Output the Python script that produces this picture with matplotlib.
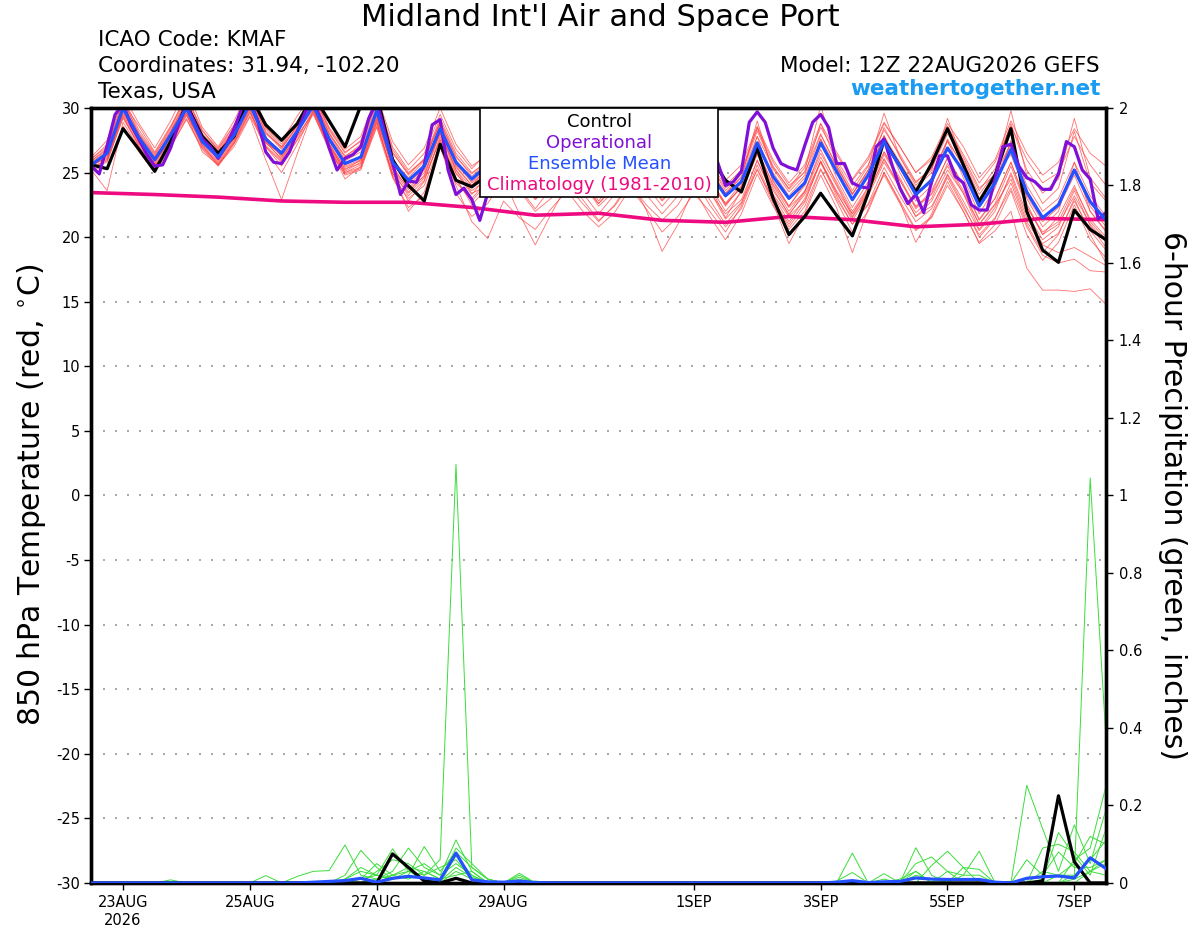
import matplotlib
matplotlib.use('Agg')
import matplotlib.pyplot as plt
import pandas as pd
from matplotlib.patches import Rectangle

plt.rcParams['font.family'] = ['DejaVu Sans']

# ---------------- data ----------------
start = '2026-08-22 12:00'
times6 = pd.date_range(start, periods=65, freq='6h')
times3 = pd.date_range(start, periods=129, freq='3h')
clim_times = pd.date_range(start, periods=17, freq='24h')

tick_dates = pd.to_datetime(['2026-08-23', '2026-08-25', '2026-08-27', '2026-08-29',
                             '2026-09-01', '2026-09-03', '2026-09-05', '2026-09-07'])
tick_labels = ['23AUG\n2026', '25AUG', '27AUG', '29AUG', '1SEP', '3SEP', '5SEP', '7SEP']
temp_ticks = [-30, -25, -20, -15, -10, -5, 0, 5, 10, 15, 20, 25, 30]
precip_ticks = [0, 0.2, 0.4, 0.6, 0.8, 1, 1.2, 1.4, 1.6, 1.8, 2]
precip_labels = ['0', '0.2', '0.4', '0.6', '0.8', '1', '1.2', '1.4', '1.6', '1.8', '2']

control_t = [25.6, 25.3, 28.4, 26.8, 25.1, 27.4, 30.3, 27.8, 26.5, 27.8, 31.0, 28.7, 27.5, 28.8, 31.0, 29.0,
             27.0, 30.2, 31.0, 26.0, 24.0, 22.8, 27.2, 24.4, 23.9, 24.8, 27.5, 25.5, 24.5, 25.5, 27.5, 25.8,
             24.5, 25.8, 27.5, 26.0, 24.8, 25.8, 27.3, 26.3, 24.4, 23.5, 26.9, 23.0, 20.2, 21.6, 23.4, 21.7,
             20.1, 23.4, 27.5, 25.5, 23.5, 25.7, 28.4, 25.6, 22.75, 24.8, 28.4, 22.0, 19.0, 18.05, 22.1, 20.6,
             19.8]

ens_mean_t = [25.6, 26.5, 30.0, 27.7, 26.0, 27.9, 30.0, 27.4, 26.2, 27.9, 30.3, 27.6, 26.5, 28.2, 30.2, 27.6,
              25.7, 26.2, 29.8, 25.8, 24.4, 25.5, 28.4, 25.8, 24.5, 25.6, 27.0, 25.5, 24.3, 25.3, 27.0, 25.5,
              24.2, 25.5, 27.2, 25.8, 24.3, 25.5, 27.0, 25.0, 23.2, 24.3, 27.3, 24.7, 23.0, 24.2, 27.3, 25.1,
              22.9, 24.8, 27.4, 25.5, 23.3, 24.4, 26.9, 25.1, 22.4, 24.2, 26.8, 23.5, 21.5, 22.5, 25.2, 22.75,
              21.3]

oper_t = [25.5, 24.9, 27.1, 29.5, 30.3, 28.7, 27.6, 26.4, 25.5, 25.6, 26.9, 28.7, 30.2, 28.9, 27.6, 27.0,
          26.1, 27.1, 28.4, 30.0, 30.6, 29.0, 26.6, 25.8, 25.7, 26.6, 28.2, 29.7, 30.6, 29.0, 26.9, 25.2,
          26.1, 26.4, 27.0, 29.2, 30.5, 28.2, 25.8, 23.3, 24.35, 24.25, 25.6, 28.7, 29.1, 25.2, 23.3, 23.8,
          22.9, 21.3, 23.4, 25.0, 26.5, 26.0, 25.2, 24.6, 24.2, 24.8, 25.8, 26.8, 27.0, 26.0, 25.0, 24.5,
          24.2, 24.9, 26.0, 27.2, 27.4, 26.4, 25.3, 24.7, 24.4, 25.0, 26.3, 27.4, 27.5, 26.5, 26.3, 25.8,
          24.0, 24.3, 25.1, 28.9, 29.7, 28.9, 26.9, 25.7, 25.4, 25.2, 27.1, 28.9, 29.5, 28.5, 25.7, 25.7,
          24.2, 23.9, 23.8, 27.0, 27.6, 25.6, 23.8, 22.6, 23.3, 21.9, 24.3, 26.3, 26.3, 24.7, 24.2, 22.5,
          22.1, 22.1, 24.5, 27.0, 27.2, 25.5, 24.6, 24.3, 23.7, 23.7, 24.9, 27.4, 27.0, 25.2, 24.5, 21.4,
          21.9]

clim_t = [23.45, 23.3, 23.1, 22.8, 22.7, 22.7, 22.3, 21.7, 21.85, 21.3, 21.15, 21.6, 21.35, 20.8, 21.0,
          21.45, 21.35]

member_01 = [26.0, 27.2, 30.8, 28.3, 26.5, 28.5, 31.0, 28.0, 26.8, 28.6, 31.2, 28.4, 27.0, 29.0, 31.0, 28.3,
             26.5, 27.5, 30.8, 27.0, 25.2, 26.5, 29.5, 26.8, 25.3, 26.6, 28.3, 26.5, 25.0, 26.4, 28.5, 26.6,
             25.0, 26.4, 28.4, 26.8, 25.3, 26.6, 28.5, 26.3, 24.4, 25.6, 28.6, 26.0, 24.2, 25.6, 28.8, 26.6,
             24.5, 26.2, 28.9, 27.0, 25.0, 26.2, 28.8, 27.0, 24.6, 26.0, 29.0, 26.5, 24.8, 25.8, 28.4, 26.5,
             25.5]
member_02 = [25.2, 23.6, 28.9, 26.9, 25.3, 27.0, 29.1, 26.8, 25.5, 27.2, 29.4, 27.0, 25.8, 27.5, 29.5, 26.9,
             25.0, 25.6, 28.8, 24.9, 23.4, 24.6, 27.5, 24.9, 23.6, 24.5, 25.9, 24.2, 22.9, 24.0, 25.7, 24.0,
             22.6, 23.9, 25.9, 24.3, 22.8, 24.0, 25.6, 23.5, 21.8, 22.9, 25.9, 23.3, 21.6, 22.8, 25.8, 23.5,
             21.3, 23.2, 25.8, 23.8, 21.6, 22.8, 25.2, 23.4, 20.6, 22.3, 24.8, 21.5, 19.5, 20.3, 22.8, 20.5,
             19.0]
member_03 = [25.8, 26.0, 29.6, 27.5, 25.8, 27.6, 29.8, 27.7, 26.5, 28.0, 30.6, 28.0, 27.0, 28.6, 30.5, 28.0,
             26.0, 26.8, 30.2, 26.2, 24.0, 25.2, 28.8, 25.5, 24.0, 25.5, 27.3, 25.0, 23.8, 25.0, 27.4, 25.2,
             23.6, 25.0, 27.6, 25.2, 23.6, 25.0, 26.6, 24.5, 22.4, 24.0, 27.8, 24.3, 22.4, 24.0, 27.6, 24.6,
             22.3, 24.3, 27.9, 25.0, 22.8, 24.0, 27.5, 24.6, 21.8, 23.8, 27.5, 23.0, 20.8, 22.0, 25.8, 22.0,
             20.5]
member_04 = [25.5, 26.3, 29.9, 27.3, 25.4, 27.3, 29.5, 26.6, 25.6, 27.0, 29.3, 26.0, 22.9, 26.5, 29.8, 27.0,
             24.5, 25.5, 28.6, 25.0, 22.8, 24.3, 27.8, 24.6, 22.5, 23.9, 26.5, 24.6, 23.0, 24.6, 26.6, 24.8,
             23.2, 24.8, 27.0, 25.1, 23.5, 24.8, 26.2, 24.0, 21.5, 23.6, 26.5, 23.8, 21.7, 23.5, 26.8, 24.1,
             21.8, 23.8, 26.6, 24.6, 22.3, 23.6, 26.1, 24.0, 21.3, 23.0, 25.8, 22.6, 20.2, 21.6, 24.0, 21.2,
             19.8]
member_05 = [25.9, 26.8, 30.3, 27.9, 26.2, 28.0, 30.3, 27.9, 26.4, 28.3, 30.8, 27.8, 26.2, 28.0, 30.4, 27.3,
             25.2, 26.0, 29.6, 25.3, 23.5, 24.8, 28.0, 25.0, 23.3, 24.8, 26.5, 24.6, 23.0, 24.3, 26.3, 24.5,
             22.8, 24.4, 26.5, 24.6, 22.9, 24.3, 26.2, 24.0, 22.0, 23.5, 26.4, 23.6, 21.8, 23.3, 25.8, 23.2,
             21.0, 22.5, 24.8, 22.6, 20.5, 21.5, 24.0, 22.0, 19.5, 20.5, 22.0, 17.6, 15.9, 15.9, 15.8, 16.0,
             14.8]
member_06 = [25.4, 25.8, 29.3, 27.2, 25.9, 27.8, 30.0, 27.4, 26.0, 27.6, 30.0, 27.3, 26.4, 28.3, 30.1, 27.2,
             25.4, 25.9, 29.2, 25.6, 24.3, 25.4, 28.0, 25.4, 24.0, 25.2, 26.8, 25.1, 23.8, 24.8, 26.7, 25.0,
             23.7, 25.0, 26.8, 25.4, 23.9, 25.1, 26.6, 24.4, 22.6, 23.8, 26.8, 24.1, 22.3, 23.5, 26.2, 24.0,
             21.6, 23.5, 26.0, 23.9, 21.6, 22.4, 24.6, 22.3, 20.2, 21.5, 23.8, 20.8, 18.6, 18.0, 18.3, 17.4,
             17.3]
member_07 = [26.2, 27.5, 31.0, 28.8, 26.9, 29.0, 31.5, 28.5, 27.0, 29.0, 31.5, 28.8, 27.4, 29.4, 31.2, 28.5,
             26.8, 27.8, 31.0, 27.4, 25.6, 26.9, 30.0, 27.2, 25.5, 26.4, 27.8, 26.0, 24.7, 25.8, 27.6, 25.9,
             24.5, 25.6, 27.4, 26.0, 24.6, 25.8, 27.4, 25.6, 23.8, 25.0, 28.5, 25.3, 23.5, 24.8, 28.8, 25.8,
             23.6, 25.5, 29.6, 26.2, 24.0, 25.2, 29.2, 25.8, 23.3, 25.0, 29.8, 24.8, 22.6, 23.8, 28.2, 24.2,
             22.8]
member_08 = [25.6, 26.1, 29.7, 27.6, 25.9, 27.4, 29.9, 27.2, 25.9, 27.7, 30.1, 27.5, 26.3, 28.1, 30.0, 27.1,
             25.1, 25.8, 29.0, 24.8, 22.0, 23.5, 27.0, 24.0, 21.2, 19.9, 22.8, 21.5, 20.6, 22.2, 23.6, 22.0,
             20.8, 21.9, 23.8, 22.2, 20.4, 21.6, 23.4, 22.0, 20.4, 22.4, 25.6, 22.8, 20.8, 22.4, 25.3, 22.8,
             20.4, 22.0, 25.0, 22.7, 19.6, 21.8, 24.8, 22.5, 20.0, 21.4, 24.2, 21.0, 18.8, 20.2, 23.0, 20.2,
             18.0]
member_09 = [25.7, 26.6, 30.2, 27.9, 26.1, 28.1, 30.4, 27.6, 26.3, 28.1, 30.5, 27.4, 26.0, 28.0, 30.6, 27.8,
             25.9, 26.6, 30.0, 26.0, 24.6, 25.9, 28.9, 26.2, 24.9, 26.0, 27.2, 25.3, 24.0, 25.6, 27.5, 25.5,
             24.4, 25.9, 27.8, 26.0, 24.5, 25.6, 27.5, 25.3, 23.4, 24.6, 29.0, 25.0, 23.2, 24.6, 27.9, 25.6,
             23.3, 25.2, 27.8, 25.8, 23.8, 25.0, 27.4, 25.6, 23.0, 24.8, 27.3, 24.0, 22.0, 23.0, 25.8, 23.2,
             21.6]
member_10 = [25.3, 25.4, 28.6, 26.6, 25.0, 26.9, 29.2, 26.9, 25.6, 27.3, 29.6, 27.3, 26.1, 27.9, 29.6, 26.7,
             24.9, 25.3, 28.5, 24.6, 22.3, 23.2, 27.0, 23.4, 21.6, 22.6, 24.5, 21.8, 19.4, 21.8, 24.0, 22.6,
             21.2, 22.5, 24.4, 22.1, 18.9, 21.0, 23.8, 21.6, 19.8, 21.8, 24.9, 22.4, 20.6, 22.0, 25.2, 23.0,
             21.0, 22.6, 25.4, 23.2, 21.2, 22.2, 24.9, 22.8, 20.5, 22.0, 25.0, 21.8, 19.8, 20.8, 23.6, 20.9,
             19.2]
member_11 = [25.9, 26.9, 30.5, 28.1, 26.4, 28.2, 30.6, 27.8, 26.5, 28.4, 30.9, 28.1, 26.8, 28.7, 30.9, 28.0,
             26.3, 27.0, 30.4, 26.5, 24.9, 26.0, 29.0, 26.3, 24.7, 25.9, 27.8, 25.9, 24.6, 25.9, 27.9, 26.1,
             24.6, 25.8, 27.9, 26.3, 24.8, 26.0, 27.8, 25.6, 23.6, 24.9, 28.2, 25.5, 23.7, 25.1, 30.2, 26.0,
             24.0, 25.6, 28.3, 26.4, 24.3, 25.3, 28.0, 26.0, 23.6, 25.3, 28.8, 25.2, 23.4, 24.5, 29.2, 24.6,
             23.0]
member_12 = [25.4, 26.0, 29.5, 27.3, 25.6, 27.5, 29.7, 27.1, 25.8, 27.5, 29.9, 27.0, 25.5, 27.6, 29.9, 27.0,
             25.3, 25.7, 29.1, 25.3, 23.8, 25.0, 28.1, 25.2, 23.8, 25.0, 26.5, 24.8, 23.4, 24.6, 26.2, 24.4,
             22.6, 24.1, 26.3, 24.8, 23.2, 24.6, 26.4, 24.3, 22.5, 23.9, 26.7, 24.0, 22.0, 23.6, 26.5, 24.3,
             22.0, 23.9, 26.6, 24.4, 22.4, 23.3, 25.5, 23.4, 21.0, 22.5, 24.5, 21.2, 19.4, 18.8, 19.2, 18.5,
             17.8]
member_13 = [25.8, 26.7, 30.1, 27.7, 26.0, 28.2, 30.5, 27.7, 26.6, 28.2, 30.2, 27.4, 26.4, 28.3, 30.5, 27.5,
             25.6, 26.3, 29.8, 25.9, 24.2, 25.3, 28.3, 25.6, 24.3, 25.4, 27.0, 25.4, 24.2, 25.4, 27.2, 25.7,
             24.4, 25.6, 27.4, 25.8, 24.4, 25.7, 27.4, 25.2, 23.4, 24.7, 27.8, 25.4, 23.8, 25.4, 28.5, 26.4,
             24.4, 26.0, 28.8, 27.0, 25.0, 26.0, 28.6, 26.4, 24.2, 25.8, 28.6, 26.0, 24.2, 25.0, 27.8, 25.6,
             24.0]
member_14 = [25.6, 26.4, 29.8, 27.4, 25.7, 27.7, 29.6, 27.0, 25.7, 27.4, 29.8, 26.7, 25.0, 27.2, 29.8, 27.2,
             25.0, 25.4, 29.3, 25.2, 23.2, 24.4, 27.6, 24.4, 22.8, 24.2, 26.0, 23.8, 22.2, 23.8, 25.4, 23.4,
             21.8, 23.3, 25.3, 23.3, 21.8, 23.2, 25.0, 22.9, 21.0, 22.6, 26.0, 23.2, 21.2, 23.0, 25.9, 23.4,
             21.5, 23.4, 26.1, 23.9, 21.9, 23.0, 25.7, 23.6, 21.0, 22.6, 25.5, 22.3, 20.4, 21.2, 23.8, 21.4,
             20.0]
member_15 = [26.1, 27.0, 30.6, 28.0, 26.3, 28.4, 30.8, 28.2, 26.9, 28.7, 31.0, 28.2, 26.9, 28.5, 30.7, 28.1,
             26.2, 27.2, 30.5, 26.6, 24.8, 26.1, 29.2, 26.5, 25.0, 25.8, 27.6, 25.7, 24.4, 25.7, 27.8, 25.8,
             24.2, 25.5, 27.7, 26.1, 24.7, 25.9, 27.6, 25.8, 24.0, 25.2, 28.4, 25.8, 24.0, 25.0, 28.0, 25.5,
             23.4, 25.0, 27.8, 25.4, 23.2, 24.6, 27.6, 25.4, 22.8, 24.5, 27.2, 23.6, 21.4, 22.6, 25.2, 22.4,
             20.8]
member_16 = [25.5, 26.2, 29.4, 27.0, 25.5, 27.1, 29.4, 27.4, 26.2, 27.8, 30.4, 27.7, 26.6, 28.4, 30.3, 27.6,
             25.5, 26.0, 29.4, 25.5, 23.7, 24.7, 28.3, 25.2, 23.4, 24.0, 25.3, 23.6, 22.0, 23.0, 24.5, 22.9,
             21.3, 22.4, 24.1, 22.5, 21.3, 22.5, 24.5, 22.5, 20.8, 22.2, 25.3, 22.6, 19.5, 21.8, 24.8, 22.3,
             18.8, 22.2, 25.0, 22.8, 20.6, 21.6, 24.3, 22.0, 19.6, 21.0, 23.6, 20.2, 18.2, 19.6, 22.5, 19.8,
             18.4]
member_17 = [25.7, 26.5, 30.4, 28.6, 26.6, 28.6, 30.9, 28.3, 26.7, 28.4, 30.7, 28.5, 27.2, 28.9, 31.0, 28.4,
             26.6, 27.4, 30.6, 26.8, 25.0, 26.0, 28.8, 26.0, 24.2, 25.2, 27.4, 25.3, 23.6, 25.2, 27.3, 25.6,
             24.0, 25.4, 27.0, 25.2, 23.6, 25.0, 27.1, 24.6, 22.6, 24.2, 27.2, 24.4, 22.4, 24.2, 27.6, 25.4,
             23.3, 25.2, 28.5, 26.2, 24.2, 25.4, 28.4, 26.2, 23.8, 24.8, 26.4, 23.2, 21.2, 22.3, 24.8, 22.0,
             20.4]
member_18 = [25.4, 25.9, 29.2, 27.1, 25.5, 27.2, 29.6, 27.1, 25.6, 27.3, 29.7, 27.1, 25.9, 27.8, 29.7, 26.9,
             24.8, 25.2, 28.9, 24.7, 23.0, 24.0, 27.2, 24.2, 23.0, 24.4, 26.0, 24.4, 23.2, 24.4, 26.2, 24.2,
             22.4, 23.6, 25.8, 24.0, 22.4, 23.8, 25.5, 23.6, 21.4, 22.7, 25.2, 22.9, 21.0, 22.7, 25.9, 23.6,
             21.8, 23.6, 26.4, 24.4, 22.2, 23.4, 26.2, 24.0, 21.4, 23.0, 25.8, 22.4, 20.2, 21.0, 23.2, 21.0,
             19.6]
members_t = [member_01, member_02, member_03, member_04, member_05, member_06, member_07, member_08, member_09,
             member_10, member_11, member_12, member_13, member_14, member_15, member_16, member_17, member_18]

control_p = [0, 0, 0, 0, 0, 0, 0, 0, 0, 0, 0, 0, 0, 0, 0, 0,
             0, 0, 0, 0.075, 0.04, 0.005, 0, 0.012, 0, 0, 0, 0, 0, 0, 0, 0,
             0, 0, 0, 0, 0, 0, 0, 0, 0, 0, 0, 0, 0, 0, 0, 0,
             0, 0, 0, 0, 0, 0, 0, 0, 0, 0, 0, 0, 0.005, 0.225, 0.055, 0,
             0]
ens_mean_p = [0, 0, 0, 0, 0, 0, 0, 0, 0, 0, 0, 0, 0, 0, 0.002, 0.004,
              0.006, 0.012, 0.002, 0.012, 0.017, 0.013, 0.008, 0.077, 0.008, 0.003, 0.002, 0.005, 0.001, 0, 0, 0,
              0, 0, 0, 0, 0, 0, 0, 0, 0, 0, 0, 0, 0, 0, 0, 0.002,
              0.006, 0.001, 0.003, 0.004, 0.013, 0.01, 0.009, 0.009, 0.009, 0.002, 0, 0.012, 0.016, 0.018, 0.013, 0.065,
              0.037]

precip_01 = [0, 0, 0, 0, 0, 0, 0, 0, 0, 0, 0, 0, 0, 0, 0, 0,
             0, 0, 0.01, 0.02, 0.03, 0.02, 0.06, 1.08, 0.04, 0.01, 0, 0, 0, 0, 0, 0,
             0, 0, 0, 0, 0, 0, 0, 0, 0, 0, 0, 0, 0, 0, 0, 0,
             0, 0, 0, 0, 0, 0, 0, 0, 0, 0, 0, 0, 0, 0, 0, 0.03,
             0.06]
precip_02 = [0, 0, 0, 0, 0, 0, 0, 0, 0, 0, 0, 0, 0, 0, 0, 0,
             0, 0, 0, 0.01, 0.02, 0.01, 0, 0.03, 0.01, 0, 0, 0, 0, 0, 0, 0,
             0, 0, 0, 0, 0, 0, 0, 0, 0, 0, 0, 0, 0, 0, 0, 0,
             0, 0, 0, 0, 0, 0, 0, 0, 0, 0, 0, 0, 0, 0, 0.02, 1.045,
             0.37]
precip_03 = [0, 0, 0, 0, 0, 0.008, 0, 0, 0, 0, 0, 0.019, 0, 0, 0, 0,
             0.01, 0.03, 0.02, 0.088, 0.03, 0.01, 0, 0.07, 0.02, 0, 0, 0.025, 0, 0, 0, 0,
             0, 0, 0, 0, 0, 0, 0, 0, 0, 0, 0, 0, 0, 0, 0, 0,
             0.077, 0, 0.024, 0, 0.03, 0, 0, 0, 0, 0, 0, 0, 0, 0.02, 0.05, 0.12,
             0.1]
precip_04 = [0, 0, 0, 0, 0, 0, 0, 0, 0, 0, 0, 0, 0, 0.017, 0.03, 0.032,
             0.098, 0.02, 0.01, 0.03, 0.09, 0.04, 0.02, 0.111, 0.03, 0, 0, 0, 0, 0, 0, 0,
             0, 0, 0, 0, 0, 0, 0, 0, 0, 0, 0, 0, 0, 0, 0, 0.005,
             0.027, 0, 0, 0, 0.091, 0.02, 0, 0, 0, 0, 0, 0.252, 0.14, 0.03, 0.15, 0.05,
             0.19]
precip_05 = [0, 0, 0, 0, 0, 0, 0, 0, 0, 0, 0, 0, 0, 0, 0, 0,
             0.02, 0.084, 0.04, 0.01, 0.02, 0.094, 0.03, 0.08, 0.04, 0.01, 0, 0.02, 0, 0, 0, 0,
             0, 0, 0, 0, 0, 0, 0, 0, 0, 0, 0, 0, 0, 0, 0, 0,
             0, 0, 0, 0, 0.05, 0.067, 0.03, 0, 0, 0, 0, 0, 0.09, 0.1, 0.08, 0.03,
             0.05]
precip_06 = [0, 0, 0, 0, 0, 0, 0, 0, 0, 0, 0, 0, 0, 0, 0, 0,
             0, 0.01, 0.05, 0.02, 0.04, 0.03, 0.01, 0.09, 0.05, 0.01, 0, 0, 0.005, 0, 0, 0,
             0, 0, 0, 0, 0, 0, 0, 0, 0, 0, 0, 0, 0, 0, 0, 0,
             0, 0, 0, 0, 0, 0.045, 0.082, 0.04, 0.035, 0, 0, 0.06, 0.02, 0.08, 0.04, 0.04,
             0.06]
precip_07 = [0, 0, 0, 0, 0, 0, 0, 0, 0, 0, 0, 0, 0, 0, 0, 0,
             0, 0, 0.03, 0.06, 0.05, 0.02, 0.04, 0.06, 0.01, 0, 0, 0.015, 0, 0, 0, 0,
             0, 0, 0, 0, 0, 0, 0, 0, 0, 0, 0, 0, 0, 0, 0, 0,
             0, 0, 0, 0.01, 0.03, 0, 0.03, 0.02, 0.082, 0, 0, 0, 0.03, 0.02, 0.02, 0.06,
             0.11]
precip_08 = [0, 0, 0, 0, 0, 0, 0, 0, 0, 0, 0, 0, 0, 0, 0, 0,
             0.01, 0.04, 0.02, 0.01, 0.03, 0.05, 0.02, 0.05, 0.02, 0, 0, 0, 0, 0, 0, 0,
             0, 0, 0, 0, 0, 0, 0, 0, 0, 0, 0, 0, 0, 0, 0, 0,
             0, 0, 0, 0, 0.02, 0.01, 0, 0.04, 0, 0, 0, 0, 0.01, 0.13, 0.07, 0.02,
             0.14]
precip_09 = [0, 0, 0, 0, 0, 0, 0, 0, 0, 0, 0, 0, 0, 0, 0, 0.005,
             0, 0, 0, 0.02, 0.01, 0.03, 0.01, 0.02, 0.03, 0, 0, 0.01, 0, 0, 0, 0,
             0, 0, 0, 0, 0, 0, 0, 0, 0, 0, 0, 0, 0, 0, 0, 0,
             0, 0, 0.01, 0, 0, 0, 0, 0.02, 0.02, 0, 0, 0, 0, 0, 0.06, 0.09,
             0.25]
precip_10 = [0, 0, 0, 0, 0, 0, 0, 0, 0, 0, 0, 0, 0, 0, 0, 0,
             0.005, 0.01, 0.02, 0.01, 0.02, 0.01, 0.005, 0.04, 0.015, 0, 0, 0, 0, 0, 0, 0,
             0, 0, 0, 0, 0, 0, 0, 0, 0, 0, 0, 0, 0, 0, 0, 0,
             0, 0, 0, 0, 0, 0, 0, 0, 0, 0, 0, 0, 0, 0, 0.01, 0.03,
             0.02]
members_p = [precip_01, precip_02, precip_03, precip_04, precip_05, precip_06, precip_07, precip_08,
             precip_09, precip_10]

legend_entries = ['Control', 'Operational', 'Ensemble Mean', 'Climatology (1981-2010)']

# ---------------- style ----------------
C_CONTROL = 'black'
C_OPER = '#8010D8'
C_MEAN = '#2450FF'
C_CLIM = '#EE0A80'
C_MEMBER = '#FF4040'
C_PRECIP = '#3BDD3B'
legend_colors = [C_CONTROL, C_OPER, C_MEAN, C_CLIM]

fig = plt.figure(figsize=(12, 9.27), dpi=100)
ax = fig.add_axes([0.0761, 0.0475, 0.8456, 0.836])
ax2 = ax.twinx()

for m in members_t:
    ax.plot(times6, m, color=C_MEMBER, lw=0.6, alpha=0.75, zorder=2)
ax.plot(clim_times, clim_t, color=C_CLIM, lw=2.6, zorder=4)
ax.plot(times6, control_t, color=C_CONTROL, lw=2.3, zorder=5)
ax.plot(times3, oper_t, color=C_OPER, lw=2.3, zorder=6)
ax.plot(times6, ens_mean_t, color=C_MEAN, lw=2.3, zorder=7)

for p in members_p:
    ax2.plot(times6, p, color=C_PRECIP, lw=0.7, zorder=2)
ax2.plot(times6, control_p, color=C_CONTROL, lw=2.3, zorder=5)
ax2.plot(times6, ens_mean_p, color=C_MEAN, lw=2.3, zorder=6)

ax.set_xlim(times6[0], times6[-1])
ax.set_ylim(-30, 30)
ax2.set_ylim(0, 2)

ax.set_yticks(temp_ticks)
ax.set_yticklabels([str(v) for v in temp_ticks])
ax2.set_yticks(precip_ticks)
ax2.set_yticklabels(precip_labels)
ax.set_xticks(tick_dates)
ax.set_xticklabels(tick_labels)

ax.tick_params(axis='y', direction='out', length=5, width=1, labelsize=10.5, pad=3)
ax2.tick_params(axis='y', direction='out', length=5, width=1, labelsize=10.5, pad=4)
ax.tick_params(axis='x', direction='out', length=5, width=1, labelsize=10.5, pad=4)

ax.yaxis.grid(True, linestyle=(0, (1.2, 6)), color='#999999', lw=1.2)
ax.set_axisbelow(True)

for a in (ax, ax2):
    for s in a.spines.values():
        s.set_linewidth(2.4)

# legend box
ax2.add_patch(Rectangle((0.383, 0.885), 0.2345, 0.115, transform=ax2.transAxes,
                        facecolor='white', edgecolor='black', lw=1.2, zorder=20))
for i, (txt, col) in enumerate(zip(legend_entries, legend_colors)):
    ax2.text(0.5005, 0.982 - i * 0.0272, txt, transform=ax2.transAxes, ha='center', va='center',
             color=col, fontsize=13, zorder=21)

# titles and labels
fig.text(0.5, 0.9806, "Midland Int'l Air and Space Port", ha='center', va='center', fontsize=22)
fig.text(0.0817, 0.9569, 'ICAO Code: KMAF', ha='left', va='center', fontsize=15.5)
fig.text(0.0817, 0.9288, 'Coordinates: 31.94, -102.20', ha='left', va='center', fontsize=15.5)
fig.text(0.0817, 0.9008, 'Texas, USA', ha='left', va='center', fontsize=15.5)
fig.text(0.9167, 0.9288, 'Model: 12Z 22AUG2026 GEFS', ha='right', va='center', fontsize=15.5)
fig.text(0.9175, 0.904, 'weathertogether.net', ha='right', va='center', fontsize=15.5,
         fontweight='bold', color='#1A9CF2')
fig.text(0.026, 0.466, '850 hPa Temperature (red, $^{\\circ}$C)', rotation=90, ha='center', va='center',
         fontsize=21.5)
fig.text(0.977, 0.466, '6-hour Precipitation (green, inches)', rotation=270, ha='center', va='center',
         fontsize=21.5)

fig.savefig('out.png', dpi=100)
